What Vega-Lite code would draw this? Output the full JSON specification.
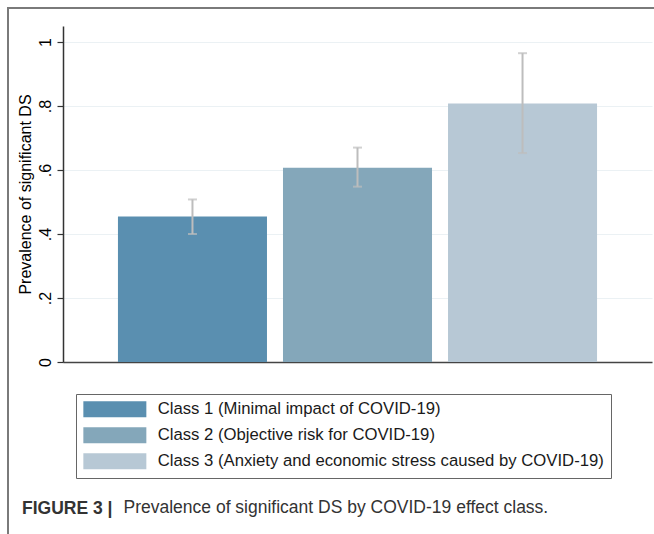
{
  "$schema": "https://vega.github.io/schema/vega-lite/v6.json",
  "autosize": {"type": "none"},
  "padding": {"left": 8, "top": 8, "right": 0, "bottom": 0},
  "width": 650,
  "height": 530,
  "background": "#ffffff",
  "data": {
    "values": [
      {"cls": "Class 1 (Minimal impact of COVID-19)", "p": 0.455, "lo": 0.400, "hi": 0.508},
      {"cls": "Class 2 (Objective risk for COVID-19)", "p": 0.607, "lo": 0.548, "hi": 0.670},
      {"cls": "Class 3 (Anxiety and economic stress caused by COVID-19)", "p": 0.808, "lo": 0.653, "hi": 0.965}
    ]
  },
  "title": {
    "text": "FIGURE 3 |",
    "orient": "bottom",
    "anchor": "start",
    "frame": "group",
    "dx": 14,
    "offset": -24,
    "baseline": "alphabetic",
    "font": "Liberation Sans",
    "fontSize": 17.5,
    "fontWeight": "bold",
    "color": "#333333"
  },
  "layer": [
    {
      "mark": {"type": "bar"},
      "encoding": {
        "x": {
          "field": "cls",
          "type": "nominal",
          "sort": null,
          "scale": {"range": [55, 644], "paddingInner": 0.097, "paddingOuter": 0.333},
          "axis": {
            "orient": "bottom",
            "offset": -176,
            "labels": false,
            "ticks": false,
            "grid": false,
            "domainColor": "#444444",
            "domainWidth": 1.5,
            "title": "Prevalence of significant DS by COVID-19 effect class.",
            "titleX": 115,
            "titleY": 150,
            "titleAlign": "left",
            "titleAngle": 0,
            "titleBaseline": "alphabetic",
            "titleFont": "Liberation Sans",
            "titleFontSize": 17.5,
            "titleFontWeight": "normal",
            "titleColor": "#333333"
          }
        },
        "y": {
          "field": "p",
          "type": "quantitative",
          "title": "Prevalence of significant DS",
          "scale": {"domain": [0, 1.05], "range": [354, 18], "nice": false, "zero": true},
          "axis": {
            "orient": "left",
            "offset": -55,
            "values": [0, 0.2, 0.4, 0.6, 0.8, 1],
            "labelExpr": "datum.value == 0 ? '0' : datum.value == 1 ? '1' : replace(format(datum.value, '.1f'), '0.', '.')",
            "labelAngle": -90,
            "labelAlign": "center",
            "labelBaseline": "alphabetic",
            "labelFont": "Liberation Sans",
            "labelFontSize": 16,
            "labelColor": "#000000",
            "labelPadding": 7,
            "tickSize": 6,
            "tickColor": "#333333",
            "tickWidth": 1.2,
            "domainColor": "#333333",
            "domainWidth": 1.5,
            "grid": true,
            "gridColor": "#ebf1f4",
            "gridWidth": 1,
            "titleFont": "Liberation Sans",
            "titleFontSize": 16,
            "titleFontWeight": "normal",
            "titleColor": "#000000",
            "titlePadding": 4
          }
        },
        "color": {
          "field": "cls",
          "type": "nominal",
          "sort": null,
          "scale": {"range": ["#5a8fb0", "#84a7ba", "#b7c8d5"]},
          "legend": {
            "orient": "none",
            "legendX": 68,
            "legendY": 386,
            "title": null,
            "padding": 7,
            "strokeColor": "#666666",
            "symbolType": "M-1,-1H6.875V1H-1Z",
            "symbolSize": 256,
            "symbolStrokeWidth": 0,
            "symbolOpacity": 1,
            "labelFont": "Liberation Sans",
            "labelFontSize": 16.7,
            "labelColor": "#1a1a1a",
            "labelOffset": 58,
            "labelLimit": 600,
            "rowPadding": 8
          }
        }
      }
    },
    {
      "mark": {"type": "errorbar", "ticks": {"size": 9}, "color": "#bdbdbd", "thickness": 2},
      "encoding": {
        "x": {"field": "cls", "type": "nominal", "sort": null},
        "y": {"field": "lo", "type": "quantitative", "title": "Prevalence of significant DS"},
        "y2": {"field": "hi"}
      }
    }
  ],
  "config": {
    "font": "Liberation Sans",
    "view": {"stroke": "#7a7a7a", "strokeWidth": 2}
  }
}
